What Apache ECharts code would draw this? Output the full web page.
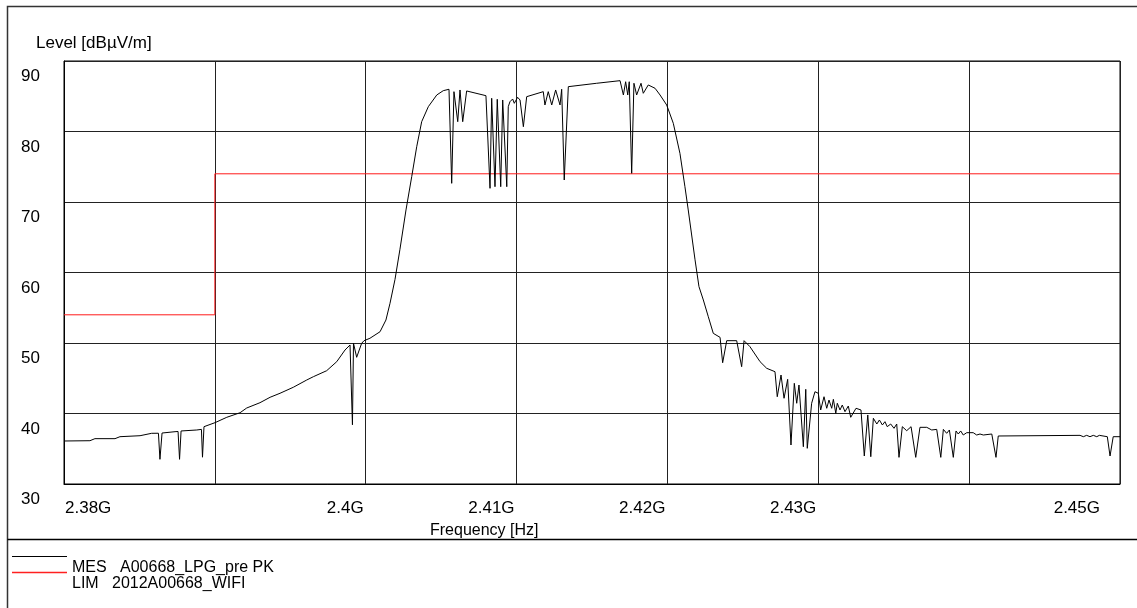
<!DOCTYPE html>
<html><head><meta charset="utf-8">
<script src="https://cdn.jsdelivr.net/npm/echarts@6/dist/echarts.min.js"></script>
<style>html,body{margin:0;padding:0;background:#fff}#c{width:1137px;height:608px}</style>
</head><body><div id="c"></div>
<script>
// X axis in MHz
const xTickValues = [2380, 2400, 2410, 2420, 2430, 2450];
const xTickLabels = ['2.38G', '2.4G', '2.41G', '2.42G', '2.43G', '2.45G'];

const mesFreq = [
  2380.03, 2381.72, 2382.05, 2383.38, 2383.71, 2385.04, 2385.81, 2386.26, 2386.36, 2386.50,
  2387.36, 2387.56, 2387.66, 2387.76, 2388.80, 2389.11, 2389.18, 2389.28, 2390.01, 2390.79,
  2391.67, 2392.11, 2392.99, 2393.66, 2394.32, 2395.20, 2396.09, 2396.53, 2397.41, 2398.08,
  2398.63, 2398.96, 2399.07, 2399.12, 2399.19, 2399.40, 2399.73, 2399.89, 2400.28, 2400.95,
  2401.34, 2401.61, 2401.94, 2402.27, 2402.67, 2403.05, 2403.38, 2403.71, 2404.15, 2404.71,
  2405.14, 2405.52, 2405.70, 2405.85, 2405.96, 2406.10, 2406.25, 2406.43, 2406.69, 2407.97,
  2408.24, 2408.35, 2408.57, 2408.72, 2408.95, 2409.08, 2409.35, 2409.45, 2409.56, 2409.74,
  2409.85, 2410.07, 2410.23, 2410.45, 2410.67, 2411.77, 2411.88, 2412.10, 2412.33, 2412.59,
  2412.88, 2412.99, 2413.16, 2413.43, 2415.31, 2416.86, 2417.08, 2417.23, 2417.37, 2417.47,
  2417.63, 2417.78, 2417.96, 2418.25, 2418.40, 2418.73, 2419.18, 2419.51, 2419.95, 2420.39,
  2420.83, 2421.16, 2421.38, 2421.83, 2422.09, 2422.38, 2422.71, 2423.04, 2423.49, 2423.66,
  2423.93, 2424.59, 2424.92, 2425.08, 2425.47, 2426.14, 2426.58, 2427.13, 2427.28, 2427.53,
  2427.73, 2427.97, 2428.19, 2428.41, 2428.57, 2428.72, 2429.01, 2429.17, 2429.27, 2429.56,
  2429.78, 2430.00, 2430.16, 2430.38, 2430.56, 2430.71, 2430.89, 2431.00, 2431.16, 2431.26,
  2431.44, 2431.59, 2431.77, 2431.99, 2432.15, 2432.50, 2432.83, 2433.05, 2433.28, 2433.48,
  2433.65, 2433.88, 2434.05, 2434.25, 2434.42, 2434.57, 2434.80, 2435.02, 2435.20, 2435.35,
  2435.57, 2435.86, 2436.15, 2436.46, 2436.74, 2437.19, 2437.52, 2437.85, 2438.12, 2438.29,
  2438.51, 2438.69, 2438.95, 2439.13, 2439.28, 2439.44, 2439.61, 2439.84, 2440.27, 2440.50,
  2440.72, 2440.94, 2441.50, 2441.78, 2441.93, 2447.35, 2447.57, 2447.79, 2448.01, 2448.23,
  2448.46, 2448.63, 2449.16, 2449.34, 2449.55, 2450.00
];
const mesLevel = [
  36.1, 36.14, 36.43, 36.43, 36.71, 36.85, 37.19, 37.2, 33.5, 37.23,
  37.42, 37.45, 33.5, 37.52, 37.66, 37.75, 33.8, 38.13, 38.70, 39.46,
  40.11, 40.78, 41.53, 42.30, 42.87, 43.72, 44.75, 45.22, 46.07, 47.35,
  49.01, 49.72, 49.96, 38.4, 49.96, 47.97, 49.96, 50.33, 50.67, 51.60,
  53.26, 55.63, 59.0, 63.3, 68.87, 73.6, 77.84, 81.39, 83.52, 85.18,
  85.79, 85.99, 72.65, 85.65, 85.89, 81.39, 85.89, 81.39, 85.75, 85.08,
  71.94, 84.71, 72.17, 84.57, 72.17, 84.47, 72.17, 83.52, 84.22, 84.61,
  84.0, 84.85, 84.47, 80.68, 84.94, 85.65, 83.76, 85.65, 83.76, 85.89,
  83.76, 85.99, 73.12, 86.36, 86.84, 87.21, 85.18, 87.06, 85.18, 87.06,
  74.07, 86.84, 85.18, 86.84, 85.42, 86.6, 86.13, 85.18, 83.76, 81.16,
  76.9, 72.17, 68.87, 61.8, 58.0, 56.1, 53.73, 51.37, 50.8, 47.2,
  50.33, 50.33, 46.64, 50.33, 49.48, 47.35, 46.41, 45.93, 42.38, 45.46,
  42.16, 44.85, 35.53, 44.28, 41.45, 44.04, 35.29, 43.43, 35.06, 41.45,
  43.09, 42.87, 40.5, 42.38, 40.74, 41.91, 40.74, 42.01, 40.03, 41.45,
  40.5, 41.2, 40.26, 41.06, 39.46, 40.74, 40.5, 33.97, 39.79, 33.87,
  39.32, 38.51, 39.08, 38.37, 38.84, 38.13, 38.51, 37.9, 38.51, 33.78,
  38.13, 37.56, 38.13, 33.78, 38.04, 38.04, 37.66, 37.75, 33.78, 37.75,
  37.19, 37.66, 33.78, 37.52, 37.09, 37.52, 36.95, 37.28, 37.28, 36.95,
  37.09, 36.95, 37.09, 33.78, 36.81, 36.9, 36.71, 36.9, 36.71, 36.9,
  36.71, 36.9, 36.71, 33.97, 36.71, 36.71
];
const limFreq = [2380, 2390, 2390, 2450];
const limLevel = [54, 54, 74, 74];

const FONT = "'Liberation Sans', Arial, sans-serif";
const zip = (a, b) => a.map((v, i) => [v, b[i]]);

const chart = echarts.init(document.getElementById('c'), null, { renderer: 'canvas' });
chart.setOption({
  animation: false,
  backgroundColor: '#fff',
  grid: { left: 64, top: 61, right: 17, bottom: 124, show: true, borderColor: '#000', borderWidth: 1 },
  xAxis: {
    type: 'value', min: 2380, max: 2450, interval: 10,
    axisLine: { show: true, lineStyle: { color: '#000', width: 1 } },
    axisTick: { show: false },
    axisLabel: { show: false },
    splitLine: { show: true, lineStyle: { color: '#222', width: 1 } }
  },
  yAxis: {
    type: 'value', min: 30, max: 90, interval: 10,
    axisLine: { show: true, lineStyle: { color: '#000', width: 1 } },
    axisTick: { show: false },
    axisLabel: { show: true, align: 'left', margin: 43, verticalAlign: 'top', padding: [7, 0, 0, 0],
      fontSize: 17, color: '#000', fontFamily: FONT },
    splitLine: { show: true, lineStyle: { color: '#222', width: 1 } }
  },
  series: [
    { name: 'MES', type: 'line', data: zip(mesFreq, mesLevel), showSymbol: false, symbol: 'none',
      lineStyle: { color: '#000', width: 1 }, z: 3 },
    { name: 'LIM', type: 'line', data: zip(limFreq, limLevel), showSymbol: false, symbol: 'none',
      lineStyle: { color: '#ff1a1a', width: 1 }, z: 2 }
  ]
});

const gfx = [];
xTickValues.forEach((v, i) => {
  const px = chart.convertToPixel({ xAxisIndex: 0 }, v);
  let x, align;
  if (i === 0) { x = px + 1; align = 'left'; }
  else if (i === xTickValues.length - 1) { x = px - 20; align = 'right'; }
  else { x = px - 2; align = 'right'; }
  gfx.push({ type: 'text', x: x, y: 508, style: { text: xTickLabels[i], fill: '#000', font: '17px ' + FONT, textAlign: align, textVerticalAlign: 'middle' } });
});
gfx.push({ type: 'text', x: 36, y: 43, style: { text: 'Level [dBµV/m]', fill: '#000', font: '17px ' + FONT, textAlign: 'left', textVerticalAlign: 'middle' } });
gfx.push({ type: 'text', x: 430, y: 531, style: { text: 'Frequency [Hz]', fill: '#000', font: '16px ' + FONT, textAlign: 'left', textVerticalAlign: 'middle' } });
// frame
gfx.push({ type: 'polyline', shape: { points: [[7.5, 608], [7.5, 6.5], [1137, 6.5]] }, style: { stroke: '#333', lineWidth: 1.5, fill: null } });
gfx.push({ type: 'line', shape: { x1: 7.5, y1: 539.5, x2: 1137, y2: 539.5 }, style: { stroke: '#000', lineWidth: 1.5 } });
// legend
gfx.push({ type: 'line', shape: { x1: 12, y1: 556.5, x2: 67, y2: 556.5 }, style: { stroke: '#000', lineWidth: 1 } });
gfx.push({ type: 'line', shape: { x1: 12, y1: 572.5, x2: 67, y2: 572.5 }, style: { stroke: '#ff2020', lineWidth: 1.3 } });
gfx.push({ type: 'text', x: 72, y: 568, style: { text: 'MES   A00668_LPG_pre PK', fill: '#000', font: '16px ' + FONT, textAlign: 'left', textVerticalAlign: 'middle' } });
gfx.push({ type: 'text', x: 72, y: 584, style: { text: 'LIM   2012A00668_WIFI', fill: '#000', font: '16px ' + FONT, textAlign: 'left', textVerticalAlign: 'middle' } });
chart.setOption({ graphic: { elements: gfx } });
</script>
</body></html>
